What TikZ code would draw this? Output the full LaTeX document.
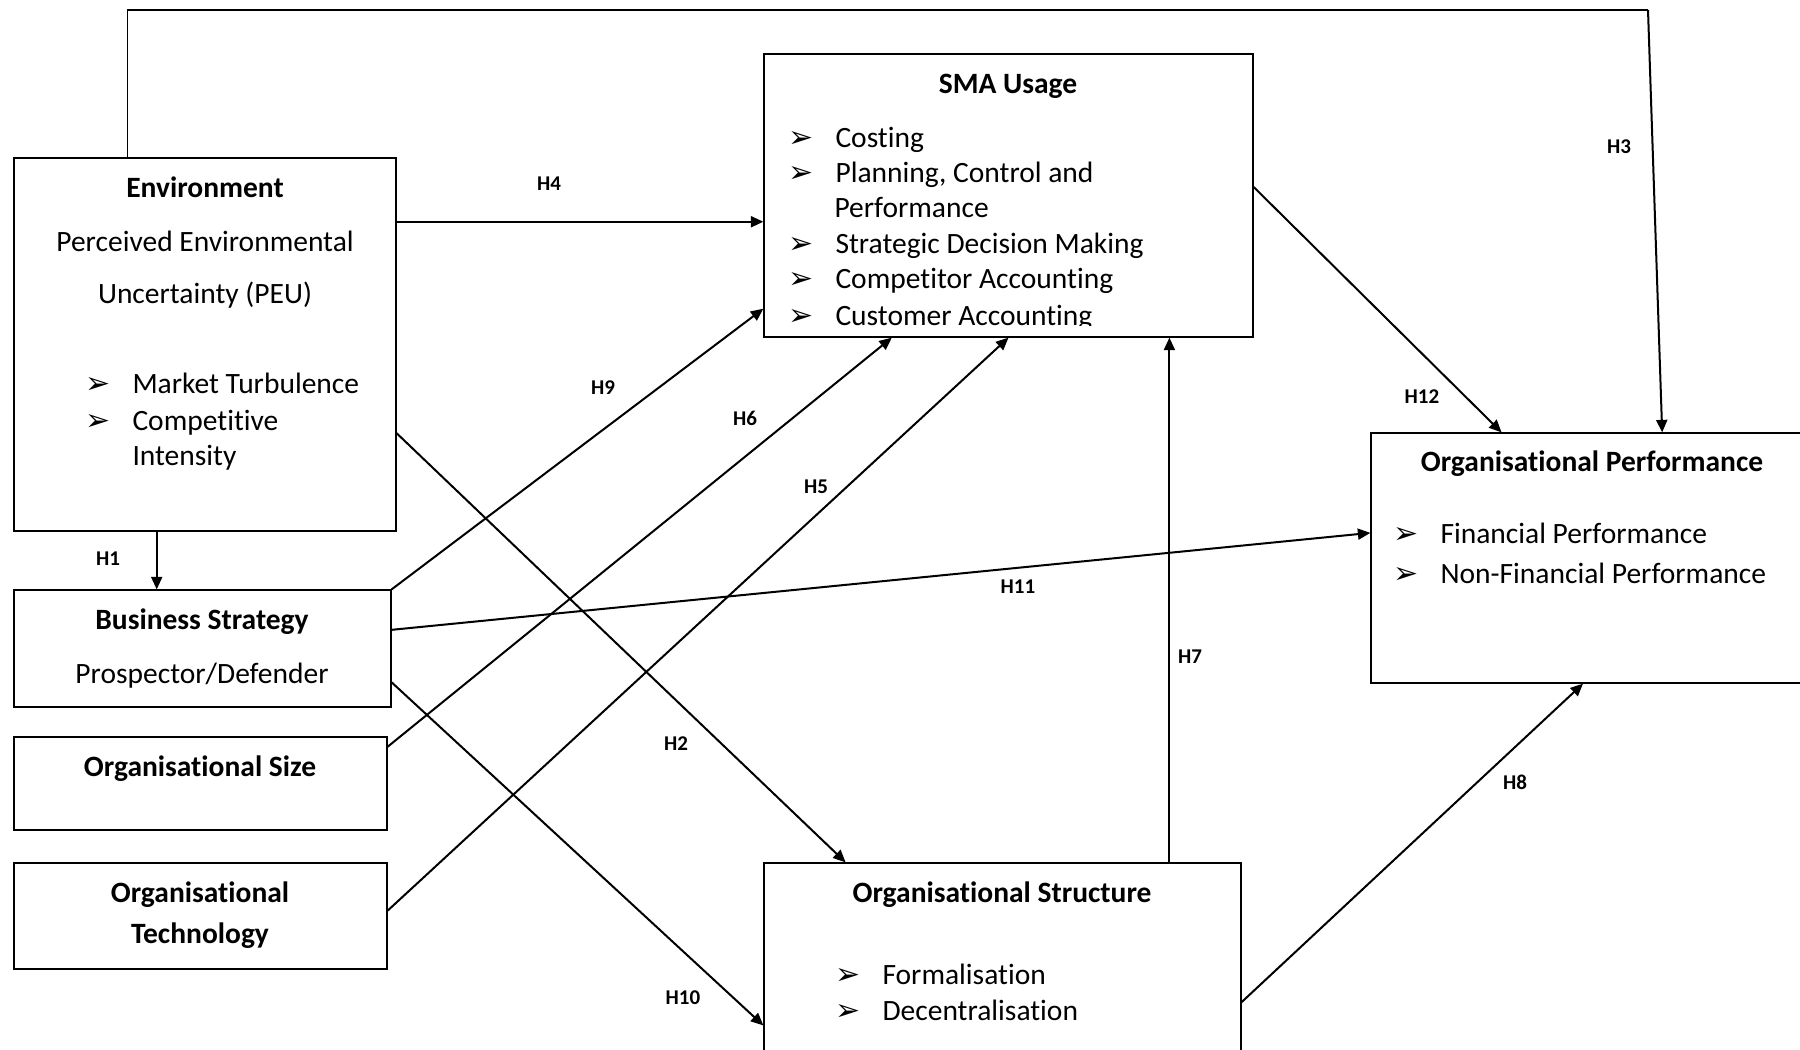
\documentclass[tikz,border=0pt]{standalone}
\usepackage{fontspec}
\setmainfont[Ligatures=NoCommon]{Carlito}
\newfontfamily\dvfont{DejaVu Sans}
\usetikzlibrary{arrows.meta,calc}
\newcommand\mybul{{\dvfont\fontsize{12}{13}\selectfont ➢}}
\newcommand\myitem[1]{\makebox[18.8pt][l]{\mybul}#1}
\begin{document}
\begin{tikzpicture}[x=0.4pt,y=-0.4pt,
  box/.style={draw,line width=0.5pt,inner sep=0pt},
  ttl/.style={anchor=base,inner sep=0pt,font=\fontsize{11.8}{13}\selectfont\bfseries},
  txt/.style={anchor=base,inner sep=0pt,font=\fontsize{11.8}{13}\selectfont},
  itm/.style={anchor=base west,inner sep=0pt,font=\fontsize{11.8}{13}\selectfont},
  lbl/.style={inner sep=0pt,font=\fontsize{8.4}{9}\selectfont\bfseries},
  arr/.style={line width=0.8pt,-{Triangle[length=5pt,width=4.4pt]}}]
\useasboundingbox (0,0) rectangle (1800,1049);

% boxes
\node[box,minimum width=152.8pt,minimum height=149.2pt] (env) at (205,344.5) {};
\node[box,minimum width=150.8pt,minimum height=46.8pt] (bs) at (202.5,648.5) {};
\node[box,minimum width=149.2pt,minimum height=37.2pt] (size) at (200.5,783.5) {};
\node[box,minimum width=149.2pt,minimum height=42.4pt] (tech) at (200.5,916) {};
\node[box,minimum width=195.6pt,minimum height=113.2pt] (sma) at (1008.5,195.5) {};
\node[box,minimum width=183.6pt,minimum height=100pt] (op) at (1600.5,558) {};
\node[box,minimum width=190.8pt,minimum height=82.8pt] (os) at (1002.5,966.5) {};

% environment text
\node[ttl] (e1) at (205,197) {Environment};
\node[txt] (e2) at (205,251) {Perceived Environmental};
\node[txt] (e3) at (205,303) {Uncertainty (PEU)};
\node[itm] (e4) at (85,393) {\myitem{Market Turbulence}};
\node[itm] (e5) at (85,430) {\myitem{Competitive}};
\node[itm] (e6) at (132,465) {Intensity};

% business strategy etc.
\node[ttl] (b1) at (202,629) {Business Strategy};
\node[txt] (b2) at (202,683) {Prospector/Defender};
\node[ttl] (z1) at (200,776) {Organisational Size};
\node[ttl] (t1) at (200,902) {Organisational};
\node[ttl] (t2) at (200,943) {Technology};

% SMA usage
\node[ttl] (s0) at (1008,93) {SMA Usage};
\node[itm] (s1) at (788,147) {\myitem{Costing}};
\node[itm] (s2) at (788,182) {\myitem{Planning, Control and}};
\node[itm] (s3) at (834,217) {Performance};
\node[itm] (s4) at (788,253) {\myitem{Strategic Decision Making}};
\node[itm] (s5) at (788,288) {\myitem{Competitor Accounting}};
\begin{scope}
\clip (700,290) rectangle (1300,325);
\node[itm] (s6) at (788,325.5) {\myitem{Customer Accounting}};
\end{scope}

% organisational performance
\node[ttl] (p0) at (1592,471) {Organisational Performance};
\node[itm] (p1) at (1393,543) {\myitem{Financial Performance}};
\node[itm] (p2) at (1393,583) {\myitem{Non-Financial Performance}};

% organisational structure
\node[ttl] (o0) at (1002,902) {Organisational Structure};
\node[itm] (o1) at (835,984) {\myitem{Formalisation}};
\node[itm] (o2) at (835,1020) {\myitem{Decentralisation}};

% connector end points
\coordinate (h4a) at ($(env.north east)!0.172!(env.south east)$);
\coordinate (h1a) at ($(env.south west)!0.374!(env.south east)$);
\coordinate (h9b) at ($(sma.north west)!0.898!(sma.south west)$);
\coordinate (h6a) at ($(size.north east)!0.11!(size.south east)$);
\coordinate (h6b) at ($(sma.south west)!0.262!(sma.south east)$);
\coordinate (h5a) at ($(tech.north east)!0.45!(tech.south east)$);
\coordinate (h7a) at ($(os.north west)!0.849!(os.north east)$);
\coordinate (h12a) at ($(sma.north east)!0.47!(sma.south east)$);
\coordinate (h12b) at ($(op.north west)!0.285!(op.north east)$);
\coordinate (h3a) at ($(env.north west)!0.298!(env.north east)$);
\coordinate (h3k) at (1648,10);
\coordinate (h3b) at ($(op.north west)!0.634!(op.north east)$);
\coordinate (h11a) at ($(bs.north east)!0.342!(bs.south east)$);
\coordinate (h11b) at ($(op.north west)!0.4!(op.south west)$);
\coordinate (h8a) at ($(os.north east)!0.671!(os.south east)$);
\coordinate (h8b) at ($(op.south west)!0.462!(op.south east)$);
\coordinate (h2a) at ($(env.north east)!0.737!(env.south east)$);
\coordinate (h2b) at ($(os.north west)!0.172!(os.north east)$);
\coordinate (h10a) at ($(bs.north east)!0.786!(bs.south east)$);
\coordinate (h10b) at ($(os.north west)!0.783!(os.south west)$);

% connectors
\draw[arr] (h4a) -- (h4a -| sma.west);
\draw[arr] (h1a) -- (h1a |- bs.north);
\draw[arr] (bs.north east) -- (h9b);
\draw[arr] (h6a) -- (h6b);
\draw[arr] (h5a) -- (sma.south);
\draw[arr] (h7a) -- (h7a |- sma.south);
\draw[arr] (h12a) -- (h12b);
\draw[line width=0.6pt] (h3a) |- (h3k);
\draw[arr] (h3k) -- (h3b);
\draw[arr] (h11a) -- (h11b);
\draw[arr] (h8a) -- (h8b);
\draw[arr] (h2a) -- (h2b);
\draw[arr] (h10a) -- (h10b);

% labels
\node[lbl] (l4) at (549,184) {H4};
\node[lbl] (l3) at (1619,147) {H3};
\node[lbl] (l9) at (603,388) {H9};
\node[lbl] (l6) at (745,418) {H6};
\node[lbl] (l12) at (1422,397) {H12};
\node[lbl] (l5) at (816,487) {H5};
\node[lbl] (l1) at (108,559) {H1};
\node[lbl] (l11) at (1018,587) {H11};
\node[lbl] (l7) at (1190,657) {H7};
\node[lbl] (l2) at (676,744) {H2};
\node[lbl] (l8) at (1515,782) {H8};
\node[lbl] (l10) at (683,998) {H10};
\end{tikzpicture}
\end{document}
